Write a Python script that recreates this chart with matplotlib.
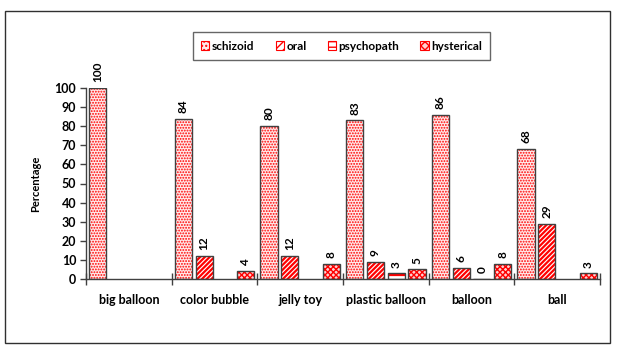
import numpy as np
import matplotlib
matplotlib.use("Agg")
import matplotlib.pyplot as plt
from matplotlib.patches import Patch, Rectangle

categories = ["big balloon", "color bubble", "jelly toy", "plastic balloon", "balloon", "ball"]
series_names = ["schizoid", "oral", "psychopath", "hysterical"]
schizoid = [100, 84, 80, 83, 86, 68]
oral = [np.nan, 12, 12, 9, 6, 29]
psychopath = [np.nan, np.nan, np.nan, 3, 0, np.nan]
hysterical = [np.nan, 4, 8, 5, 8, 3]
yticks = list(range(0, 101, 10))

plt.rcParams['font.family'] = ['Lato', 'DejaVu Sans']
plt.rcParams['hatch.linewidth'] = 1.3

fig = plt.figure(figsize=(6.17, 3.54), dpi=100)
ax = fig.add_axes([86/617, 1-279/354, (600-86)/617, (279-88)/354])

styles = [
    dict(face='#ffeaea', hatch='......', lw=0.9),
    dict(face='white', hatch='///////', lw=1.6),
    dict(face='white', hatch='---', lw=1.6),
    dict(face='#ffd0d0', hatch='xxxxxx', lw=1.0),
]
data = [schizoid, oral, psychopath, hysterical]
x = np.arange(len(categories))
width = 0.2
step = 0.243
for i, (vals, st) in enumerate(zip(data, styles)):
    v = np.array(vals, dtype=float)
    pos = x + (i - 1.5) * step
    plt.rcParams['hatch.linewidth'] = st['lw']
    ax.bar(pos, v, width, color=st['face'], hatch=st['hatch'], edgecolor='red', linewidth=0, zorder=2)
    ax.bar(pos, v, width, fill=False, edgecolor='#404040', linewidth=1.0, zorder=3)
    for p, val in zip(pos, v):
        if not np.isnan(val):
            ax.text(p, val + 3, f"{int(val)}", rotation=90, ha='center', va='bottom',
                    fontsize=8.5, fontweight='bold', color='black')

ax.set_xlim(-0.5, len(categories) - 0.5)
ax.set_ylim(0, 100)
ax.set_yticks(yticks)
ax.set_yticklabels([str(t) for t in yticks], fontsize=9, fontweight='bold')
ax.set_xticks(x)
ax.set_xticklabels(categories, fontsize=9, fontweight='bold')
ax.tick_params(axis='x', length=0, pad=11)
ax.set_xticks(np.arange(-0.5, len(categories)), minor=True)
ax.tick_params(axis='x', which='minor', direction='inout', length=8, width=1, color='#404040')
ax.tick_params(axis='y', direction='out', length=4, width=1, color='#404040', pad=3)
for s in ['top', 'right']:
    ax.spines[s].set_visible(False)
for s in ['left', 'bottom']:
    ax.spines[s].set_color('#404040')
    ax.spines[s].set_linewidth(1.0)
ax.set_ylabel("Percentage", fontsize=8, fontweight='bold', labelpad=10)

plt.rcParams['hatch.linewidth'] = 1.0
handles = [Patch(facecolor=st['face'], hatch=st['hatch'][:4], edgecolor='red', linewidth=0.8) for st in styles]
leg = fig.legend(handles, series_names, loc='center', bbox_to_anchor=(341.5/617, 1-46/354),
                 ncol=4, frameon=True, fancybox=False, edgecolor='#404040',
                 prop=dict(weight='bold', size=8.5), handlelength=0.7, handleheight=0.7,
                 handletextpad=0.2, columnspacing=1.8, borderpad=0.7)
leg.get_frame().set_linewidth(1.0)

fig.patches.append(Rectangle((5/617, 1-343/354), 605/617, 332/354, transform=fig.transFigure,
                             fill=False, edgecolor='#303030', linewidth=1.0))

fig.savefig("out.png", dpi=100)
